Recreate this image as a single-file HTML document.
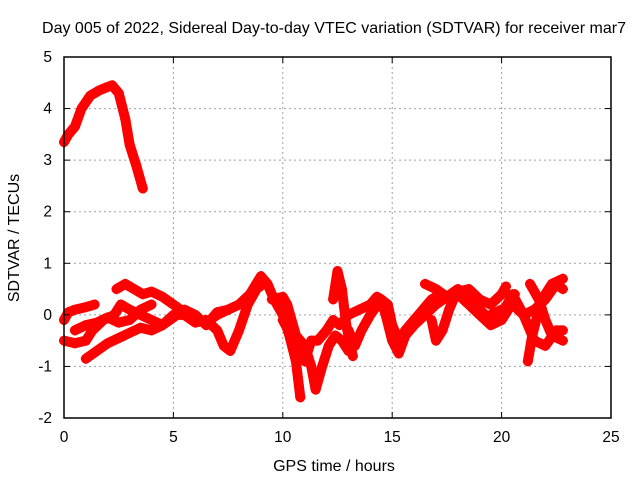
<!DOCTYPE html>
<html><head><meta charset="utf-8"><style>
body{margin:0;background:#fff}
svg{display:block;font-family:"Liberation Sans",sans-serif}
</style></head><body>
<svg id="c" width="640" height="480">
<text x="334" y="33" text-anchor="middle" font-size="16">Day 005 of 2022, Sidereal Day-to-day VTEC variation (SDTVAR) for receiver mar7</text>
<text x="334" y="471" text-anchor="middle" font-size="16">GPS time / hours</text>
<text transform="translate(19,238) rotate(-90)" text-anchor="middle" font-size="16">SDTVAR / TECUs</text>
<g id="grid"></g><g id="marks"></g><g id="axes"></g>
</svg>
<script>
const xTicks=[0,5,10,15,20,25];
const yTicks=[-2,-1,0,1,2,3,4,5];
const traceHigh=[[0,3.35],[0.2,3.5],[0.5,3.65],[0.8,4.0],[1.2,4.25],[1.6,4.35],[2.0,4.42],[2.2,4.45],[2.5,4.3],[2.8,3.8],[3.0,3.3],[3.3,2.9],[3.6,2.45]];
const traceB=[[0,-0.1],[0.2,0.05],[0.5,0.1],[1.0,0.15],[1.4,0.2]];
const traceC=[[0,-0.5],[0.5,-0.55],[1.0,-0.5],[1.3,-0.3],[1.8,-0.1],[2.3,0.0],[2.6,0.2],[3.0,0.1],[3.5,0.0],[4.0,-0.1],[4.5,-0.2],[5,0],[5.5,0],[6,-0.15],[6.5,-0.1],[7,-0.3],[7.3,-0.6],[7.6,-0.7],[8,-0.3],[8.4,0.2],[8.8,0.5],[9.1,0.6]];
const traceD=[[1,-0.85],[1.5,-0.7],[2,-0.55],[2.5,-0.45],[3,-0.35],[3.5,-0.25],[4.0,-0.3],[4.5,-0.2],[5,-0.05],[5.5,0.1],[6,0],[6.5,-0.2],[7,0.05],[7.5,0.1]];
const traceE=[[0.5,-0.3],[1.0,-0.2],[1.5,-0.15],[2.0,-0.05],[2.5,-0.15],[3.0,-0.1],[3.5,0.1],[4,0.2]];
const traceF=[[2.4,0.5],[2.8,0.6],[3.2,0.5],[3.6,0.4],[4.0,0.45],[4.5,0.35],[5,0.2],[5.5,0.05],[6,-0.1],[6.5,-0.15],[7,0],[7.5,0.1],[8,0.2],[8.5,0.4],[9,0.75],[9.3,0.6],[9.6,0.3],[10,0],[10.3,-0.4],[10.6,-0.9],[10.8,-1.6]];
const traceG=[[9.5,0.3],[10,0.35],[10.2,0.2],[10.6,-0.4],[11,-0.6],[11.3,-1.0],[11.5,-1.45],[11.8,-1.0],[12.1,-0.6],[12.4,-0.4],[12.7,-0.5],[13,-0.7]];
const traceH=[[10,-0.1],[10.5,-0.5],[11,-0.9],[11.3,-0.5],[11.6,-0.5],[12,-0.3],[12.3,-0.1],[12.6,-0.2],[13,0],[13.5,0.1],[14,0.2],[14.3,0.35],[14.5,0.3],[14.7,0],[15,-0.5],[15.3,-0.75],[15.6,-0.4],[16,-0.2],[16.5,0],[17,0.2],[17.5,0.35],[18,0.5],[18.5,0.3],[19,0.1],[19.5,-0.1],[20,0],[20.5,0.4],[21,0.0],[21.5,0.1],[22,0.3],[22.5,0.6],[22.8,0.5]];
const traceSpike=[[12.3,0.3],[12.5,0.85],[12.7,0.5],[12.9,-0.2],[13.2,-0.8]];
const traceI=[[13,-0.3],[13.3,-0.6],[13.6,-0.3],[14,0],[14.5,0.3],[14.8,0.2],[15,-0.2],[15.3,-0.5],[15.6,-0.3],[16,-0.1],[16.4,0.1],[16.8,0.3],[17.2,0.4],[17.6,0.3],[18,0.4],[18.5,0.2],[19,0],[19.5,-0.2],[20,-0.1],[20.3,0.1],[20.6,0.4]];
const traceJ=[[16.5,0.6],[17,0.5],[17.5,0.35],[18,0.45],[18.5,0.5],[19,0.3],[19.5,0.2],[20,0.4],[20.2,0.55]];
const traceK=[[16.8,-0.1],[17.0,-0.5],[17.3,-0.3],[17.6,0.1],[17.8,0.3]];
const traceL=[[21.2,-0.9],[21.4,-0.4],[21.7,0.1],[22,0.4],[22.3,0.6],[22.8,0.7]];
const traceM=[[21.3,0.6],[21.7,0.3],[22,-0.1],[22.3,-0.4],[22.8,-0.5]];
const traceN=[[19.5,0],[20,0.1],[20.5,0.2],[21,0],[21.5,-0.5],[22,-0.6],[22.5,-0.3],[22.8,-0.3]];
const traces=[traceHigh,traceB,traceC,traceD,traceE,traceF,traceG,traceH,traceSpike,traceI,traceJ,traceK,traceL,traceM,traceN];

const L=64,R=611,T=57,B=418;
const sx=v=>L+(v-0)/25*(R-L);
const sy=v=>B-(v+2)/7*(B-T);
const NS='http://www.w3.org/2000/svg';
const grid=document.getElementById('grid'),axes=document.getElementById('axes'),marks=document.getElementById('marks');
function mk(tag,attrs,parent){const e=document.createElementNS(NS,tag);for(const k in attrs)e.setAttribute(k,attrs[k]);parent.appendChild(e);return e;}
xTicks.forEach(t=>{
  const x=sx(t);
  if(t>0&&t<25){const g=mk('line',{x1:x,x2:x,y1:T,y2:B,stroke:'#a0a0a0','stroke-dasharray':'2,3'},grid);
  
  }
  mk('line',{x1:x,x2:x,y1:B,y2:B-6,stroke:'#000'},axes);
  mk('line',{x1:x,x2:x,y1:T,y2:T+6,stroke:'#000'},axes);
  const tx=mk('text',{x:x,y:B+24,'text-anchor':'middle','font-size':'15.5'},axes);tx.textContent=t;
  
  
});
yTicks.forEach(t=>{
  const y=sy(t);
  if(t>-2&&t<5){const g=mk('line',{x1:L,x2:R,y1:y,y2:y,stroke:'#a0a0a0','stroke-dasharray':'2,3'},grid);
  
  }
  mk('line',{x1:L,x2:L+6,y1:y,y2:y,stroke:'#000'},axes);
  mk('line',{x1:R,x2:R-6,y1:y,y2:y,stroke:'#000'},axes);
  const tx=mk('text',{x:L-12,y:y+5,'text-anchor':'end','font-size':'15.5'},axes);tx.textContent=t;
  
  
});
const fr=mk('rect',{x:L,y:T,width:R-L,height:B-T,fill:'none',stroke:'#000','stroke-width':1.5},axes);


traces.forEach(tr=>{
  const pl=mk('polyline',{points:tr.map(p=>sx(p[0])+','+sy(p[1])).join(' '),fill:'none',stroke:'#f00','stroke-width':10,'stroke-linejoin':'round','stroke-linecap':'round'},marks);
  
  
  tr.forEach(p=>{
    const x=sx(p[0]),y=sy(p[1]);
    const m=mk('path',{d:`M${x-5},${y}H${x+5}M${x},${y-5}V${y+5}`,stroke:'#f00','stroke-width':2},marks);
    
    
  });
});
</script>
</body></html>
